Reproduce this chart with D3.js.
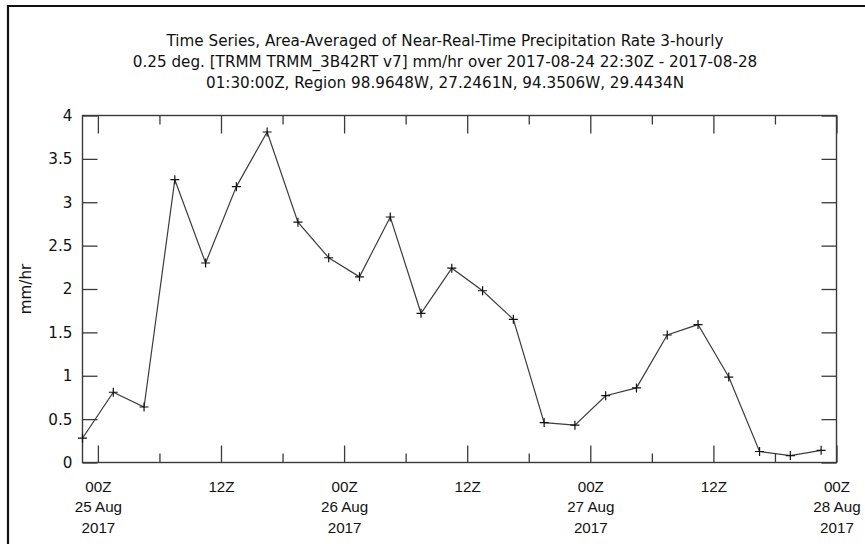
<!DOCTYPE html>
<html>
<head>
<meta charset="utf-8">
<script src="https://cdn.jsdelivr.net/npm/d3@7"></script>
<style>
  html, body { margin: 0; padding: 0; background: #fff; }
  svg { display: block; font-family: "DejaVu Sans", sans-serif; }
</style>
</head>
<body>
<svg id="chart" width="865" height="544"></svg>
<script>
// ---- Data ----
const titleLines = [
  "Time Series, Area-Averaged of Near-Real-Time Precipitation Rate 3-hourly",
  "0.25 deg. [TRMM TRMM_3B42RT v7] mm/hr over 2017-08-24 22:30Z - 2017-08-28",
  "01:30:00Z, Region 98.9648W, 27.2461N, 94.3506W, 29.4434N"
];
const yLabel = "mm/hr";
const times = [
  "2017-08-24T22:30Z", "2017-08-25T01:30Z", "2017-08-25T04:30Z", "2017-08-25T07:30Z",
  "2017-08-25T10:30Z", "2017-08-25T13:30Z", "2017-08-25T16:30Z", "2017-08-25T19:30Z",
  "2017-08-25T22:30Z", "2017-08-26T01:30Z", "2017-08-26T04:30Z", "2017-08-26T07:30Z",
  "2017-08-26T10:30Z", "2017-08-26T13:30Z", "2017-08-26T16:30Z", "2017-08-26T19:30Z",
  "2017-08-26T22:30Z", "2017-08-27T01:30Z", "2017-08-27T04:30Z", "2017-08-27T07:30Z",
  "2017-08-27T10:30Z", "2017-08-27T13:30Z", "2017-08-27T16:30Z", "2017-08-27T19:30Z",
  "2017-08-27T22:30Z"
];
const values = [
  0.28, 0.81, 0.64, 3.26, 2.30, 3.18, 3.81, 2.77,
  2.36, 2.14, 2.83, 1.72, 2.24, 1.98, 1.65, 0.46,
  0.43, 0.77, 0.86, 1.47, 1.59, 0.985, 0.127, 0.08,
  0.14
];
const xDomain = ["2017-08-24T22:30Z", "2017-08-28T00:00Z"];
const majorTicks = [
  "2017-08-25T00:00Z", "2017-08-25T12:00Z", "2017-08-26T00:00Z", "2017-08-26T12:00Z",
  "2017-08-27T00:00Z", "2017-08-27T12:00Z", "2017-08-28T00:00Z"
];
const minorTicks = [
  "2017-08-25T06:00Z", "2017-08-25T18:00Z", "2017-08-26T06:00Z", "2017-08-26T18:00Z",
  "2017-08-27T06:00Z", "2017-08-27T18:00Z"
];
const yTicks = [0, 0.5, 1, 1.5, 2, 2.5, 3, 3.5, 4];

// ---- Layout ----
const svg = d3.select("#chart");
const L = 82.5, R = 836.5, T = 115.5, B = 462.5;
const FS = 15.2;
const x = d3.scaleUtc().domain(xDomain.map(d => new Date(d))).range([L, R]);
const y = d3.scaleLinear().domain([0, 4]).range([B, T]);
const frameColor = "#3a3a3a";

// outer frame (cropped)
svg.append("path")
  .attr("d", `M8,548 L8,6 L870,6`)
  .attr("fill", "none").attr("stroke", "#111").attr("stroke-width", 2.2);

// title
const title = svg.append("text").attr("text-anchor", "middle")
  .attr("font-size", FS).attr("fill", "#111");
titleLines.forEach((t, i) => {
  title.append("tspan").attr("x", 445).attr("y", 45.5 + i * 21).text(t);
});

function styleAxis(g) {
  g.select(".domain").remove();
  g.selectAll(".tick line").attr("stroke", frameColor).attr("stroke-width", 1.3);
}

// bottom major ticks with labels
const fmtDay = d3.utcFormat("%d %b");
const gBottom = svg.append("g").attr("transform", `translate(0,${B})`)
  .call(d3.axisBottom(x).tickValues(majorTicks.map(d => new Date(d)))
    .tickSizeInner(-17).tickSizeOuter(0).tickFormat(""));
styleAxis(gBottom);
gBottom.selectAll(".tick").each(function(d) {
  const t = d3.select(this).select("text").attr("fill", "#111")
    .attr("font-size", FS).attr("y", null).attr("dy", null);
  const hr = d.getUTCHours();
  t.append("tspan").attr("x", 0).attr("y", 29).text(d3.utcFormat("%H")(d) + "Z");
  if (hr === 0) {
    t.append("tspan").attr("x", 0).attr("y", 49.5).text(fmtDay(d));
    t.append("tspan").attr("x", 0).attr("y", 70).text(d3.utcFormat("%Y")(d));
  }
});
const gBottomMinor = svg.append("g").attr("transform", `translate(0,${B})`)
  .call(d3.axisBottom(x).tickValues(minorTicks.map(d => new Date(d)))
    .tickSizeInner(-9).tickSizeOuter(0).tickFormat(""));
styleAxis(gBottomMinor);

// top ticks
const gTop = svg.append("g").attr("transform", `translate(0,${T})`)
  .call(d3.axisTop(x).tickValues(majorTicks.map(d => new Date(d)))
    .tickSizeInner(-18).tickSizeOuter(0).tickFormat(""));
styleAxis(gTop);
const gTopMinor = svg.append("g").attr("transform", `translate(0,${T})`)
  .call(d3.axisTop(x).tickValues(minorTicks.map(d => new Date(d)))
    .tickSizeInner(-9).tickSizeOuter(0).tickFormat(""));
styleAxis(gTopMinor);

// left axis
const gLeft = svg.append("g").attr("transform", `translate(${L},0)`)
  .call(d3.axisLeft(y).tickValues(yTicks).tickSizeInner(-15).tickSizeOuter(0)
    .tickPadding(10).tickFormat(d3.format("")));
styleAxis(gLeft);
gLeft.selectAll(".tick text").attr("font-size", FS).attr("fill", "#111")
  .attr("font-family", "DejaVu Sans");

// right axis
const gRight = svg.append("g").attr("transform", `translate(${R},0)`)
  .call(d3.axisRight(y).tickValues(yTicks).tickSizeInner(-15).tickSizeOuter(0).tickFormat(""));
styleAxis(gRight);

// frame
svg.append("rect").attr("x", L).attr("y", T).attr("width", R - L).attr("height", B - T)
  .attr("fill", "none").attr("stroke", frameColor).attr("stroke-width", 1.4);

// y label
svg.append("text").attr("transform", `translate(31,${(T + B) / 2}) rotate(-90)`)
  .attr("text-anchor", "middle").attr("font-size", FS).attr("fill", "#111").text(yLabel);

// series
const data = times.map((t, i) => ({ t: new Date(t), v: values[i] }));
svg.append("path").datum(data)
  .attr("fill", "none").attr("stroke", "#3c3c3c").attr("stroke-width", 1.2)
  .attr("d", d3.line().x(d => x(d.t)).y(d => y(d.v)));
const s = 4.5;
svg.append("g").selectAll("path").data(data).join("path")
  .attr("d", d => `M${x(d.t) - s},${y(d.v)}h${2 * s}M${x(d.t)},${y(d.v) - s}v${2 * s}`)
  .attr("stroke", "#111").attr("stroke-width", 1.2).attr("fill", "none");
</script>
</body>
</html>
